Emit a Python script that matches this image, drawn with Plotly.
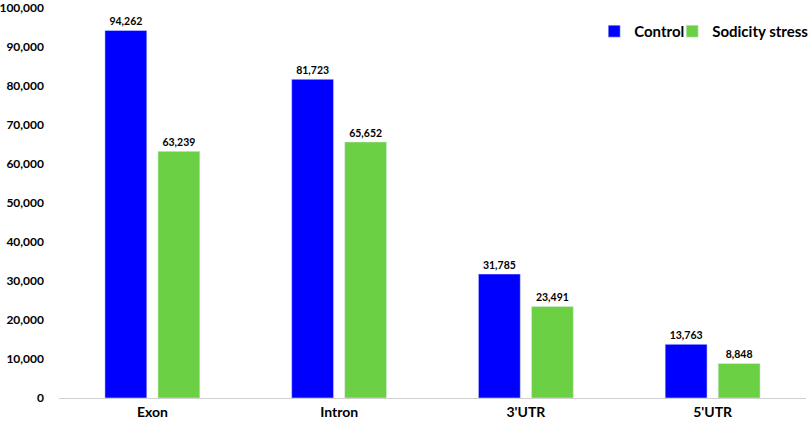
import plotly.graph_objects as go

categories = ["Exon", "Intron", "3'UTR", "5'UTR"]
control = [94262, 81723, 31785, 13763]
sodicity = [63239, 65652, 23491, 8848]
y_ticks = [0, 10000, 20000, 30000, 40000, 50000, 60000, 70000, 80000, 90000, 100000]

FONT = "Lato"
LEG_FONT = dict(family=FONT, size=15, color="black", weight="bold")

fig = go.Figure()
fig.add_trace(go.Bar(
    x=categories, y=control, name="Control",
    marker=dict(color="#0000FF"),
    text=[f"{v:,}" for v in control], textposition="outside",
    textfont=dict(family=FONT, size=10.5, color="black", weight="bold"),
    cliponaxis=False, legend="legend",
))
fig.add_trace(go.Bar(
    x=categories, y=sodicity, name="Sodicity stress",
    marker=dict(color="#6CD044"),
    text=[f"{v:,}" for v in sodicity], textposition="outside",
    textfont=dict(family=FONT, size=10.5, color="black", weight="bold"),
    cliponaxis=False, legend="legend2",
))

fig.update_layout(
    width=809, height=422,
    margin=dict(l=59, r=3, t=8, b=24, autoexpand=False),
    paper_bgcolor="white", plot_bgcolor="white",
    barmode="group", bargap=0.432, bargroupgap=0.21,
    font=dict(family=FONT, size=13, color="black"),
    showlegend=True,
    legend=dict(
        orientation="h", x=0.845, xanchor="right", y=0.94, yanchor="middle",
        font=LEG_FONT, itemwidth=30, bgcolor="rgba(0,0,0,0)",
    ),
    legend2=dict(
        orientation="h", x=1.011, xanchor="right", y=0.94, yanchor="middle",
        font=LEG_FONT, itemwidth=30, bgcolor="rgba(0,0,0,0)",
    ),
    uniformtext=dict(minsize=8, mode="show"),
)
fig.update_xaxes(
    showline=True, linecolor="#d0d0d0", linewidth=1,
    ticks="", showgrid=False, automargin=False,
    ticklabelstandoff=1, ticklabeloverflow="allow",
    tickfont=dict(family=FONT, size=14, color="black", weight="bold"),
)
fig.update_yaxes(
    range=[0, 100000], tickvals=y_ticks,
    ticktext=[f"{v:,}" for v in y_ticks],
    showgrid=False, showline=False, zeroline=False, ticks="",
    automargin=False, ticklabelstandoff=14, ticklabeloverflow="allow",
    tickfont=dict(family=FONT, size=12, color="black", weight="bold"),
)

fig.write_html(
    "out.html",
    config={"displayModeBar": False},
    post_script="document.body.style.margin='0';document.body.style.overflow='hidden';",
)
